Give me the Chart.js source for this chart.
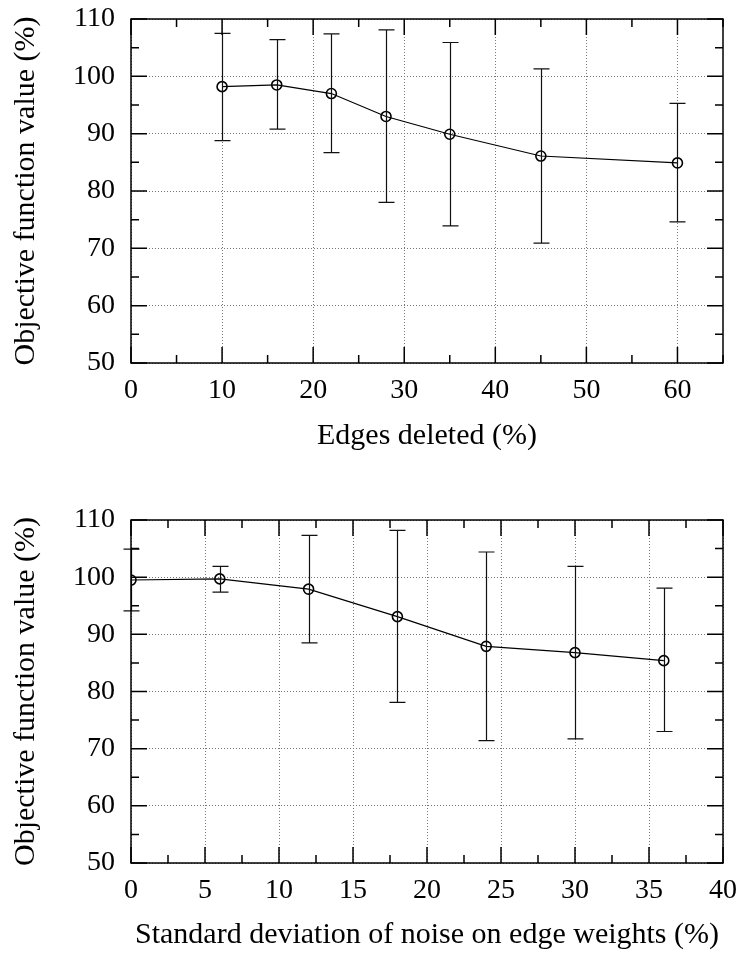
<!DOCTYPE html>
<html lang="en">
<head>
  <meta charset="UTF-8">
  <title>Objective function value vs perturbation</title>
  <script src="https://cdn.jsdelivr.net/npm/chart.js"></script>
  <style>
    body {
      margin: 0;
      background: #fff;
    }
    .chart-box {
      position: relative;
      width: 745px;
      height: 479px;
    }
  </style>
</head>
<body>
  <div class="chart-box"><canvas id="edgesChart"></canvas></div>
  <div class="chart-box"><canvas id="noiseChart"></canvas></div>

  <script>
    // top panel: edges deleted
    const edgesDeleted = [10, 16, 22, 28, 35, 45, 60];
    const edgesMean = [98.2, 98.5, 97.0, 93.0, 89.9, 86.1, 84.9];
    const edgesLow = [88.8, 90.8, 86.7, 78.0, 73.9, 70.9, 74.6];
    const edgesHigh = [107.5, 106.4, 107.4, 108.1, 105.9, 101.3, 95.3];
    const edgesTicks = [0, 10, 20, 30, 40, 50, 60];

    // bottom panel: noise on edge weights
    const noiseStd = [0, 6, 12, 18, 24, 30, 36];
    const noiseMean = [99.5, 99.7, 97.9, 93.1, 87.9, 86.8, 85.4];
    const noiseLow = [94.1, 97.4, 88.5, 78.1, 71.4, 71.7, 73.0];
    const noiseHigh = [104.9, 101.9, 107.3, 108.2, 104.4, 101.9, 98.1];
    const noiseTicks = [0, 5, 10, 15, 20, 25, 30, 35, 40];

    const yTicks = [50, 60, 70, 80, 90, 100, 110];
    const yTitle = 'Objective function value (%)';

    const FONT = "'Liberation Serif', 'Times New Roman', serif";
    const TICK_SIZE = 28;
    const TITLE_SIZE = 30;

    // error bars + frame + inward tick marks (major and minor)
    const framePlugin = {
      id: 'frame',
      afterDatasetsDraw(chart) {
        const ctx = chart.ctx;
        const x = chart.scales.x, y = chart.scales.y;
        ctx.save();
        ctx.strokeStyle = '#111';
        ctx.lineWidth = 1.2;
        chart.data.datasets.forEach(ds => {
          ds.data.forEach((p, i) => {
            const px = Math.round(x.getPixelForValue(p.x)) + 0.5;
            const top = y.getPixelForValue(ds.high[i]);
            const bot = y.getPixelForValue(ds.low[i]);
            ctx.beginPath();
            ctx.moveTo(px, top);
            ctx.lineTo(px, bot);
            ctx.moveTo(px - 8, top);
            ctx.lineTo(px + 8, top);
            ctx.moveTo(px - 8, bot);
            ctx.lineTo(px + 8, bot);
            ctx.stroke();
          });
        });
        ctx.restore();
      },
      afterDraw(chart) {
        const ctx = chart.ctx;
        const a = chart.chartArea;
        const x = chart.scales.x, y = chart.scales.y;
        ctx.save();
        ctx.strokeStyle = '#000';
        ctx.lineWidth = 1.5;
        ctx.strokeRect(a.left, a.top, a.right - a.left, a.bottom - a.top);

        // major ticks at tick values, minor ticks halfway between them
        const marks = (vals, max) => {
          const step = vals[1] - vals[0];
          const out = [];
          vals.forEach(v => {
            out.push([v, 16]);
            if (v + step / 2 <= max) out.push([v + step / 2, 8]);
          });
          return out;
        };
        ctx.beginPath();
        marks(x.ticks.map(t => t.value), x.max).forEach(([v, len]) => {
          const px = x.getPixelForValue(v);
          ctx.moveTo(px, a.bottom);
          ctx.lineTo(px, a.bottom - len);
          ctx.moveTo(px, a.top);
          ctx.lineTo(px, a.top + len);
        });
        marks(y.ticks.map(t => t.value), y.max).forEach(([v, len]) => {
          const py = y.getPixelForValue(v);
          ctx.moveTo(a.left, py);
          ctx.lineTo(a.left + len, py);
          ctx.moveTo(a.right, py);
          ctx.lineTo(a.right - len, py);
        });
        ctx.stroke();
        ctx.restore();
      }
    };

    function makeChart(id, xs, mean, low, high, xTicks, xMax, xTitle, opt) {
      const ctx = document.getElementById(id).getContext('2d');
      return new Chart(ctx, {
        type: 'scatter',
        data: {
          datasets: [{
            data: xs.map((v, i) => ({ x: v, y: mean[i] })),
            low: low,
            high: high,
            showLine: true,
            borderColor: '#000',
            borderWidth: 1.2,
            tension: 0,
            pointStyle: 'circle',
            pointRadius: 5,
            pointBorderWidth: 1.6,
            pointBorderColor: '#000',
            pointBackgroundColor: 'rgba(0,0,0,0)'
          }]
        },
        options: {
          responsive: true,
          maintainAspectRatio: false,
          animation: false,
          events: [],
          layout: { padding: opt.padding },
          plugins: {
            legend: { display: false },
            tooltip: { enabled: false }
          },
          scales: {
            x: {
              type: 'linear',
              min: 0,
              max: xMax,
              afterBuildTicks: s => { s.ticks = xTicks.map(v => ({ value: v })); },
              afterFit: s => {
                s.height = opt.xHeight;
                s.paddingLeft = 0;
                s.paddingRight = 0;
              },
              ticks: {
                autoSkip: false,
                maxRotation: 0,
                padding: 11,
                color: '#000',
                font: { family: FONT, size: TICK_SIZE }
              },
              grid: {
                drawTicks: false,
                color: '#777',
                lineWidth: 1
              },
              border: { display: false, dash: [1, 2] },
              title: {
                display: true,
                text: xTitle,
                color: '#000',
                font: { family: FONT, size: TITLE_SIZE },
                padding: { top: 0, bottom: opt.xTitlePad }
              }
            },
            y: {
              min: 50,
              max: 110,
              afterBuildTicks: s => { s.ticks = yTicks.map(v => ({ value: v })); },
              afterFit: s => {
                s.width = opt.yWidth;
                s.paddingTop = 0;
                s.paddingBottom = 0;
              },
              ticks: {
                padding: 16,
                color: '#000',
                font: { family: FONT, size: TICK_SIZE }
              },
              grid: {
                drawTicks: false,
                color: '#777',
                lineWidth: 1
              },
              border: { display: false, dash: [1, 2] },
              title: {
                display: true,
                text: yTitle,
                color: '#000',
                font: { family: FONT, size: TITLE_SIZE },
                padding: { top: 4, bottom: 0 }
              }
            }
          }
        },
        plugins: [framePlugin]
      });
    }

    makeChart('edgesChart', edgesDeleted, edgesMean, edgesLow, edgesHigh,
      edgesTicks, 65, 'Edges deleted (%)',
      { padding: { left: 4, right: 22, top: 19, bottom: 0 }, xHeight: 116, yWidth: 127, xTitlePad: 25 });

    makeChart('noiseChart', noiseStd, noiseMean, noiseLow, noiseHigh,
      noiseTicks, 40, 'Standard deviation of noise on edge weights (%)',
      { padding: { left: 4, right: 22, top: 41, bottom: 0 }, xHeight: 95, yWidth: 127, xTitlePad: 5 });
  </script>
</body>
</html>
